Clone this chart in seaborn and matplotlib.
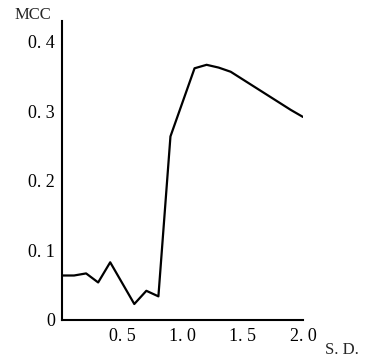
import matplotlib
matplotlib.use("Agg")
import matplotlib.pyplot as plt
import seaborn as sns
import pandas as pd

sd = [0.0, 0.1, 0.2, 0.3, 0.4, 0.5, 0.6, 0.7, 0.8, 0.9, 1.0, 1.1, 1.2, 1.3, 1.4, 1.5, 1.6, 1.7, 1.8, 1.9, 2.0]
mcc = [0.064, 0.064, 0.067, 0.054, 0.083, 0.053, 0.023, 0.042, 0.034, 0.264, 0.313, 0.362, 0.367, 0.363, 0.357, 0.346, 0.335, 0.324, 0.313, 0.302, 0.292]
y_ticks = [0, 0.1, 0.2, 0.3, 0.4]
y_labels = ["0", "0. 1", "0. 2", "0. 3", "0. 4"]
x_ticks = [0.5, 1.0, 1.5, 2.0]
x_labels = ["0. 5", "1. 0", "1. 5", "2. 0"]

df = pd.DataFrame({"sd": sd, "mcc": mcc})

sns.set_style("white")
plt.rcParams['font.family'] = ['Liberation Serif', 'DejaVu Serif']

fig = plt.figure(figsize=(3.67, 3.60), dpi=100)
ax = fig.add_axes([62/367, 1-320/360, (303-62)/367, (320-21)/360])
sns.lineplot(data=df, x="sd", y="mcc", ax=ax, color="black", linewidth=1.6)
ax.set_xlim(0, 2.0)
ax.set_ylim(0, 0.43)
ax.set_xticks(x_ticks)
ax.set_xticklabels(x_labels)
ax.set_yticks(y_ticks)
ax.set_yticklabels(y_labels)
ax.set_xlabel("")
ax.set_ylabel("")
for s in ["top", "right"]:
    ax.spines[s].set_visible(False)
for s in ["left", "bottom"]:
    ax.spines[s].set_linewidth(1.5)
    ax.spines[s].set_color("black")
ax.tick_params(axis="both", direction="in", length=7, width=1.5, colors="black", labelsize=13)
ax.tick_params(axis="y", pad=5)
ax.tick_params(axis="x", pad=6)
fig.text(15/367, 1-15/360, "MCC", fontsize=12, ha="left", va="center")
fig.text(325/367, 1-350/360, "S. D.", fontsize=12, ha="left", va="center")
fig.savefig("out.png", dpi=100, facecolor="white")
